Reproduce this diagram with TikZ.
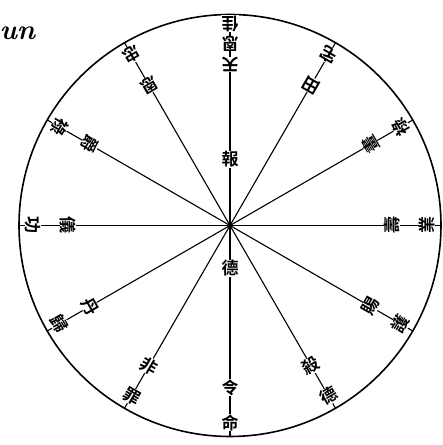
\documentclass[tikz,border=0pt]{standalone}
\usepackage{fontspec}
\usetikzlibrary{calc}
\newfontfamily\cjk[BoldFont={Noto Sans CJK TC Bold}]{Noto Sans CJK TC}
\begin{document}
\begin{tikzpicture}[x=1pt,y=1pt,
  ch/.style={font=\cjk\bfseries\fontsize{17}{17}\selectfont, fill=white, inner sep=0.3pt},
  line/.style={line width=1.1pt}]
\useasboundingbox (0,0) rectangle (443,445);
\coordinate (O) at (230,219.5);
\draw[line width=1.6pt] (O) circle (211);
\foreach \a in {90,60,...,-240}{
  \draw[line] (O) -- ++(\a:211);
}
% center
\node[ch] (bao) at ($(O)+(0,66)$) {報};
\node[ch] (de) at ($(O)+(0,-43)$) {德};
% spokes: angle, inner, outer
\foreach \a/\i/\o in {60/田/宅,30/畫/祿,0/壽/業,-30/賜/護,-60/殺/德,-90/令/命,-120/非/罪,-150/丹/歸,180/儀/功,150/爵/祿,120/恩/忠}{
  \node[ch, rotate=\a+90] at ($(O)+(\a:162)$) {\i};
  \node[ch, rotate=\a+90] at ($(O)+(\a:197)$) {\o};
}
\node[ch, rotate=180] (t1) at ($(O)+(90:161)$) {天};
\node[ch, rotate=180] (t2) at ($(O)+(90:182)$) {恩};
\node[ch, rotate=180] (t3) at ($(O)+(90:202)$) {佳};
\node[font=\bfseries\itshape\fontsize{28}{28}\selectfont, anchor=base west] (un) at (-4,405) {un};
\end{tikzpicture}
\end{document}
